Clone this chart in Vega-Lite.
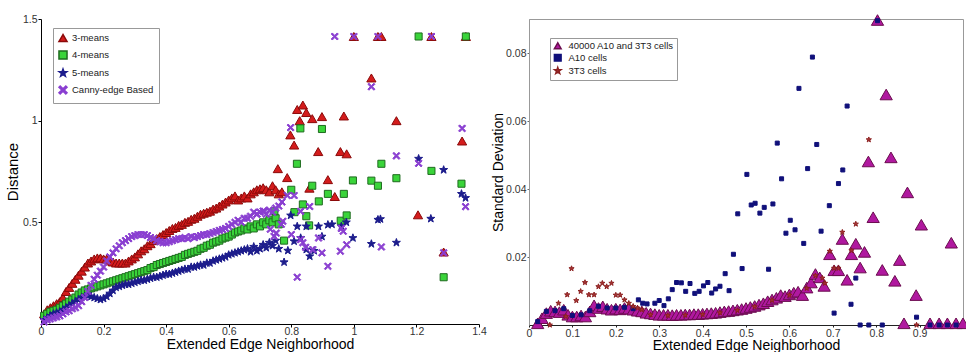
{
"$schema": "https://vega.github.io/schema/vega-lite/v6.json",
"padding": {"left": 5, "top": 12, "right": 0, "bottom": 0},
"config": {"font": "Liberation Sans", "view": {"stroke": null},
 "axis": {"grid": false, "labelFont": "Liberation Sans", "titleFont": "Liberation Sans", "titleFontWeight": "normal", "labelFontSize": 10.5, "labelColor": "#333", "titleColor": "#000", "labelFlush": false, "labelOverlap": false},
 "legend": {"labelFont": "Liberation Sans"}},
"spacing": 4,
"datasets": {
"left": [
{"x":0.01,"y":0.05,"s":"3-means"},{"x":0.02,"y":0.07,"s":"3-means"},{"x":0.03,"y":0.08,"s":"3-means"},{"x":0.04,"y":0.09,"s":"3-means"},{"x":0.05,"y":0.1,"s":"3-means"},{"x":0.06,"y":0.11,"s":"3-means"},{"x":0.07,"y":0.13,"s":"3-means"},{"x":0.08,"y":0.16,"s":"3-means"},{"x":0.09,"y":0.18,"s":"3-means"},{"x":0.1,"y":0.2,"s":"3-means"},
{"x":0.11,"y":0.22,"s":"3-means"},{"x":0.12,"y":0.24,"s":"3-means"},{"x":0.13,"y":0.26,"s":"3-means"},{"x":0.14,"y":0.28,"s":"3-means"},{"x":0.15,"y":0.3,"s":"3-means"},{"x":0.16,"y":0.31,"s":"3-means"},{"x":0.17,"y":0.32,"s":"3-means"},{"x":0.18,"y":0.325,"s":"3-means"},{"x":0.19,"y":0.325,"s":"3-means"},{"x":0.2,"y":0.32,"s":"3-means"},
{"x":0.21,"y":0.32,"s":"3-means"},{"x":0.22,"y":0.31,"s":"3-means"},{"x":0.23,"y":0.305,"s":"3-means"},{"x":0.24,"y":0.3,"s":"3-means"},{"x":0.25,"y":0.3,"s":"3-means"},{"x":0.26,"y":0.3,"s":"3-means"},{"x":0.27,"y":0.3,"s":"3-means"},{"x":0.28,"y":0.31,"s":"3-means"},{"x":0.29,"y":0.32,"s":"3-means"},{"x":0.3,"y":0.33,"s":"3-means"},
{"x":0.31,"y":0.345,"s":"3-means"},{"x":0.32,"y":0.36,"s":"3-means"},{"x":0.33,"y":0.37,"s":"3-means"},{"x":0.34,"y":0.385,"s":"3-means"},{"x":0.35,"y":0.395,"s":"3-means"},{"x":0.36,"y":0.41,"s":"3-means"},{"x":0.37,"y":0.42,"s":"3-means"},{"x":0.38,"y":0.43,"s":"3-means"},{"x":0.39,"y":0.44,"s":"3-means"},{"x":0.4,"y":0.45,"s":"3-means"},
{"x":0.41,"y":0.46,"s":"3-means"},{"x":0.42,"y":0.47,"s":"3-means"},{"x":0.43,"y":0.475,"s":"3-means"},{"x":0.44,"y":0.485,"s":"3-means"},{"x":0.45,"y":0.49,"s":"3-means"},{"x":0.46,"y":0.5,"s":"3-means"},{"x":0.47,"y":0.505,"s":"3-means"},{"x":0.48,"y":0.515,"s":"3-means"},{"x":0.49,"y":0.52,"s":"3-means"},{"x":0.5,"y":0.53,"s":"3-means"},
{"x":0.51,"y":0.54,"s":"3-means"},{"x":0.52,"y":0.545,"s":"3-means"},{"x":0.53,"y":0.55,"s":"3-means"},{"x":0.54,"y":0.555,"s":"3-means"},{"x":0.55,"y":0.565,"s":"3-means"},{"x":0.56,"y":0.57,"s":"3-means"},{"x":0.57,"y":0.58,"s":"3-means"},{"x":0.58,"y":0.59,"s":"3-means"},{"x":0.59,"y":0.6,"s":"3-means"},{"x":0.6,"y":0.61,"s":"3-means"},
{"x":0.61,"y":0.62,"s":"3-means"},{"x":0.62,"y":0.63,"s":"3-means"},{"x":0.63,"y":0.61,"s":"3-means"},{"x":0.64,"y":0.62,"s":"3-means"},{"x":0.65,"y":0.63,"s":"3-means"},{"x":0.66,"y":0.62,"s":"3-means"},{"x":0.67,"y":0.64,"s":"3-means"},{"x":0.68,"y":0.65,"s":"3-means"},{"x":0.69,"y":0.66,"s":"3-means"},{"x":0.7,"y":0.665,"s":"3-means"},
{"x":0.71,"y":0.67,"s":"3-means"},{"x":0.72,"y":0.66,"s":"3-means"},{"x":0.73,"y":0.65,"s":"3-means"},{"x":0.74,"y":0.68,"s":"3-means"},{"x":0.75,"y":0.66,"s":"3-means"},{"x":0.76,"y":0.64,"s":"3-means"},{"x":0.77,"y":0.65,"s":"3-means"},
{"x":0.757,"y":0.764,"s":"3-means"},{"x":0.787,"y":0.72,"s":"3-means"},{"x":0.797,"y":0.93,"s":"3-means"},{"x":0.809,"y":0.88,"s":"3-means"},{"x":0.819,"y":1.055,"s":"3-means"},{"x":0.827,"y":1.0,"s":"3-means"},{"x":0.837,"y":1.077,"s":"3-means"},{"x":0.848,"y":1.04,"s":"3-means"},{"x":0.867,"y":1.01,"s":"3-means"},{"x":0.898,"y":1.02,"s":"3-means"},
{"x":0.858,"y":0.668,"s":"3-means"},{"x":0.886,"y":0.848,"s":"3-means"},{"x":0.917,"y":0.71,"s":"3-means"},{"x":0.939,"y":0.627,"s":"3-means"},{"x":0.957,"y":0.848,"s":"3-means"},{"x":0.968,"y":1.023,"s":"3-means"},{"x":0.977,"y":0.837,"s":"3-means"},{"x":1.056,"y":1.21,"s":"3-means"},{"x":1.136,"y":1.0,"s":"3-means"},{"x":1.205,"y":0.537,"s":"3-means"},
{"x":1.287,"y":0.354,"s":"3-means"},{"x":1.346,"y":0.9,"s":"3-means"},{"x":1.0,"y":1.414,"s":"3-means"},{"x":1.077,"y":1.414,"s":"3-means"},{"x":1.088,"y":1.414,"s":"3-means"},{"x":1.248,"y":1.414,"s":"3-means"},{"x":1.358,"y":1.414,"s":"3-means"},
{"x":0.01,"y":0.04,"s":"4-means"},{"x":0.02,"y":0.05,"s":"4-means"},{"x":0.03,"y":0.06,"s":"4-means"},{"x":0.04,"y":0.065,"s":"4-means"},{"x":0.05,"y":0.07,"s":"4-means"},{"x":0.06,"y":0.08,"s":"4-means"},{"x":0.07,"y":0.09,"s":"4-means"},{"x":0.08,"y":0.1,"s":"4-means"},{"x":0.09,"y":0.11,"s":"4-means"},{"x":0.1,"y":0.12,"s":"4-means"},
{"x":0.11,"y":0.13,"s":"4-means"},{"x":0.12,"y":0.145,"s":"4-means"},{"x":0.13,"y":0.155,"s":"4-means"},{"x":0.14,"y":0.165,"s":"4-means"},{"x":0.15,"y":0.17,"s":"4-means"},{"x":0.16,"y":0.175,"s":"4-means"},{"x":0.17,"y":0.18,"s":"4-means"},{"x":0.18,"y":0.185,"s":"4-means"},{"x":0.19,"y":0.19,"s":"4-means"},{"x":0.2,"y":0.195,"s":"4-means"},
{"x":0.21,"y":0.2,"s":"4-means"},{"x":0.22,"y":0.205,"s":"4-means"},{"x":0.23,"y":0.21,"s":"4-means"},{"x":0.24,"y":0.215,"s":"4-means"},{"x":0.25,"y":0.22,"s":"4-means"},{"x":0.26,"y":0.225,"s":"4-means"},{"x":0.27,"y":0.23,"s":"4-means"},{"x":0.28,"y":0.235,"s":"4-means"},{"x":0.29,"y":0.24,"s":"4-means"},{"x":0.3,"y":0.245,"s":"4-means"},
{"x":0.31,"y":0.25,"s":"4-means"},{"x":0.32,"y":0.255,"s":"4-means"},{"x":0.33,"y":0.26,"s":"4-means"},{"x":0.34,"y":0.265,"s":"4-means"},{"x":0.35,"y":0.275,"s":"4-means"},{"x":0.36,"y":0.28,"s":"4-means"},{"x":0.37,"y":0.29,"s":"4-means"},{"x":0.38,"y":0.295,"s":"4-means"},{"x":0.39,"y":0.3,"s":"4-means"},{"x":0.4,"y":0.305,"s":"4-means"},
{"x":0.41,"y":0.31,"s":"4-means"},{"x":0.42,"y":0.315,"s":"4-means"},{"x":0.43,"y":0.32,"s":"4-means"},{"x":0.44,"y":0.325,"s":"4-means"},{"x":0.45,"y":0.33,"s":"4-means"},{"x":0.46,"y":0.34,"s":"4-means"},{"x":0.47,"y":0.345,"s":"4-means"},{"x":0.48,"y":0.35,"s":"4-means"},{"x":0.49,"y":0.355,"s":"4-means"},{"x":0.5,"y":0.36,"s":"4-means"},
{"x":0.51,"y":0.37,"s":"4-means"},{"x":0.52,"y":0.375,"s":"4-means"},{"x":0.53,"y":0.385,"s":"4-means"},{"x":0.54,"y":0.39,"s":"4-means"},{"x":0.55,"y":0.4,"s":"4-means"},{"x":0.56,"y":0.405,"s":"4-means"},{"x":0.57,"y":0.41,"s":"4-means"},{"x":0.58,"y":0.42,"s":"4-means"},{"x":0.59,"y":0.425,"s":"4-means"},{"x":0.6,"y":0.43,"s":"4-means"},
{"x":0.61,"y":0.44,"s":"4-means"},{"x":0.62,"y":0.45,"s":"4-means"},{"x":0.63,"y":0.455,"s":"4-means"},{"x":0.64,"y":0.46,"s":"4-means"},{"x":0.65,"y":0.47,"s":"4-means"},{"x":0.66,"y":0.465,"s":"4-means"},{"x":0.67,"y":0.48,"s":"4-means"},{"x":0.68,"y":0.47,"s":"4-means"},{"x":0.69,"y":0.49,"s":"4-means"},{"x":0.7,"y":0.48,"s":"4-means"},
{"x":0.71,"y":0.5,"s":"4-means"},{"x":0.72,"y":0.49,"s":"4-means"},{"x":0.73,"y":0.51,"s":"4-means"},{"x":0.74,"y":0.5,"s":"4-means"},{"x":0.75,"y":0.52,"s":"4-means"},{"x":0.76,"y":0.49,"s":"4-means"},
{"x":0.777,"y":0.41,"s":"4-means"},{"x":0.746,"y":0.555,"s":"4-means"},{"x":0.8,"y":0.66,"s":"4-means"},{"x":0.81,"y":0.55,"s":"4-means"},{"x":0.818,"y":0.788,"s":"4-means"},{"x":0.829,"y":0.962,"s":"4-means"},{"x":0.837,"y":0.588,"s":"4-means"},{"x":0.848,"y":0.53,"s":"4-means"},{"x":0.857,"y":0.485,"s":"4-means"},{"x":0.867,"y":0.68,"s":"4-means"},
{"x":0.888,"y":0.603,"s":"4-means"},{"x":0.898,"y":0.959,"s":"4-means"},{"x":0.917,"y":0.64,"s":"4-means"},{"x":0.958,"y":0.508,"s":"4-means"},{"x":0.968,"y":0.64,"s":"4-means"},{"x":0.977,"y":0.534,"s":"4-means"},{"x":0.997,"y":0.706,"s":"4-means"},{"x":1.056,"y":0.705,"s":"4-means"},{"x":1.077,"y":0.68,"s":"4-means"},{"x":1.088,"y":0.788,"s":"4-means"},
{"x":1.136,"y":0.717,"s":"4-means"},{"x":1.207,"y":1.414,"s":"4-means"},{"x":1.248,"y":0.753,"s":"4-means"},{"x":1.287,"y":0.23,"s":"4-means"},{"x":1.344,"y":0.69,"s":"4-means"},{"x":1.358,"y":1.414,"s":"4-means"},
{"x":0.01,"y":0.02,"s":"5-means"},{"x":0.02,"y":0.03,"s":"5-means"},{"x":0.03,"y":0.04,"s":"5-means"},{"x":0.04,"y":0.05,"s":"5-means"},{"x":0.05,"y":0.055,"s":"5-means"},{"x":0.06,"y":0.06,"s":"5-means"},{"x":0.07,"y":0.07,"s":"5-means"},{"x":0.08,"y":0.08,"s":"5-means"},{"x":0.09,"y":0.09,"s":"5-means"},{"x":0.1,"y":0.1,"s":"5-means"},
{"x":0.11,"y":0.11,"s":"5-means"},{"x":0.12,"y":0.12,"s":"5-means"},{"x":0.13,"y":0.13,"s":"5-means"},{"x":0.14,"y":0.135,"s":"5-means"},{"x":0.15,"y":0.14,"s":"5-means"},{"x":0.16,"y":0.135,"s":"5-means"},{"x":0.17,"y":0.13,"s":"5-means"},{"x":0.18,"y":0.125,"s":"5-means"},{"x":0.19,"y":0.12,"s":"5-means"},{"x":0.2,"y":0.125,"s":"5-means"},
{"x":0.21,"y":0.135,"s":"5-means"},{"x":0.22,"y":0.15,"s":"5-means"},{"x":0.23,"y":0.165,"s":"5-means"},{"x":0.24,"y":0.18,"s":"5-means"},{"x":0.25,"y":0.185,"s":"5-means"},{"x":0.26,"y":0.19,"s":"5-means"},{"x":0.27,"y":0.195,"s":"5-means"},{"x":0.28,"y":0.195,"s":"5-means"},{"x":0.29,"y":0.2,"s":"5-means"},{"x":0.3,"y":0.205,"s":"5-means"},
{"x":0.31,"y":0.21,"s":"5-means"},{"x":0.32,"y":0.215,"s":"5-means"},{"x":0.33,"y":0.215,"s":"5-means"},{"x":0.34,"y":0.22,"s":"5-means"},{"x":0.35,"y":0.225,"s":"5-means"},{"x":0.36,"y":0.23,"s":"5-means"},{"x":0.37,"y":0.23,"s":"5-means"},{"x":0.38,"y":0.235,"s":"5-means"},{"x":0.39,"y":0.24,"s":"5-means"},{"x":0.4,"y":0.245,"s":"5-means"},
{"x":0.41,"y":0.245,"s":"5-means"},{"x":0.42,"y":0.25,"s":"5-means"},{"x":0.43,"y":0.255,"s":"5-means"},{"x":0.44,"y":0.26,"s":"5-means"},{"x":0.45,"y":0.265,"s":"5-means"},{"x":0.46,"y":0.27,"s":"5-means"},{"x":0.47,"y":0.27,"s":"5-means"},{"x":0.48,"y":0.28,"s":"5-means"},{"x":0.49,"y":0.28,"s":"5-means"},{"x":0.5,"y":0.285,"s":"5-means"},
{"x":0.51,"y":0.29,"s":"5-means"},{"x":0.52,"y":0.29,"s":"5-means"},{"x":0.53,"y":0.3,"s":"5-means"},{"x":0.54,"y":0.3,"s":"5-means"},{"x":0.55,"y":0.31,"s":"5-means"},{"x":0.56,"y":0.315,"s":"5-means"},{"x":0.57,"y":0.32,"s":"5-means"},{"x":0.58,"y":0.325,"s":"5-means"},{"x":0.59,"y":0.33,"s":"5-means"},{"x":0.6,"y":0.34,"s":"5-means"},
{"x":0.61,"y":0.345,"s":"5-means"},{"x":0.62,"y":0.35,"s":"5-means"},{"x":0.63,"y":0.355,"s":"5-means"},{"x":0.64,"y":0.36,"s":"5-means"},{"x":0.65,"y":0.365,"s":"5-means"},{"x":0.66,"y":0.37,"s":"5-means"},{"x":0.67,"y":0.355,"s":"5-means"},{"x":0.68,"y":0.38,"s":"5-means"},{"x":0.69,"y":0.36,"s":"5-means"},{"x":0.7,"y":0.37,"s":"5-means"},
{"x":0.71,"y":0.39,"s":"5-means"},{"x":0.72,"y":0.375,"s":"5-means"},{"x":0.73,"y":0.4,"s":"5-means"},{"x":0.74,"y":0.385,"s":"5-means"},{"x":0.75,"y":0.41,"s":"5-means"},{"x":0.76,"y":0.37,"s":"5-means"},
{"x":0.777,"y":0.304,"s":"5-means"},{"x":0.789,"y":0.361,"s":"5-means"},{"x":0.798,"y":0.534,"s":"5-means"},{"x":0.809,"y":0.407,"s":"5-means"},{"x":0.819,"y":0.48,"s":"5-means"},{"x":0.83,"y":0.423,"s":"5-means"},{"x":0.848,"y":0.48,"s":"5-means"},{"x":0.848,"y":0.366,"s":"5-means"},{"x":0.859,"y":0.333,"s":"5-means"},{"x":0.873,"y":0.36,"s":"5-means"},
{"x":0.887,"y":0.48,"s":"5-means"},{"x":0.898,"y":0.43,"s":"5-means"},{"x":0.917,"y":0.488,"s":"5-means"},{"x":0.93,"y":0.49,"s":"5-means"},{"x":0.96,"y":0.48,"s":"5-means"},{"x":0.976,"y":0.5,"s":"5-means"},{"x":0.997,"y":0.423,"s":"5-means"},{"x":1.056,"y":0.394,"s":"5-means"},{"x":1.077,"y":0.513,"s":"5-means"},{"x":1.085,"y":0.516,"s":"5-means"},
{"x":1.136,"y":0.4,"s":"5-means"},{"x":1.207,"y":0.813,"s":"5-means"},{"x":1.246,"y":0.518,"s":"5-means"},{"x":1.287,"y":0.758,"s":"5-means"},{"x":1.344,"y":0.64,"s":"5-means"},{"x":1.357,"y":0.62,"s":"5-means"},
{"x":0.01,"y":0.01,"s":"Canny-edge Based"},{"x":0.02,"y":0.02,"s":"Canny-edge Based"},{"x":0.03,"y":0.025,"s":"Canny-edge Based"},{"x":0.04,"y":0.03,"s":"Canny-edge Based"},{"x":0.05,"y":0.035,"s":"Canny-edge Based"},{"x":0.06,"y":0.04,"s":"Canny-edge Based"},{"x":0.07,"y":0.05,"s":"Canny-edge Based"},{"x":0.08,"y":0.06,"s":"Canny-edge Based"},{"x":0.09,"y":0.065,"s":"Canny-edge Based"},{"x":0.1,"y":0.075,"s":"Canny-edge Based"},
{"x":0.11,"y":0.08,"s":"Canny-edge Based"},{"x":0.12,"y":0.09,"s":"Canny-edge Based"},{"x":0.13,"y":0.11,"s":"Canny-edge Based"},{"x":0.14,"y":0.13,"s":"Canny-edge Based"},{"x":0.15,"y":0.16,"s":"Canny-edge Based"},{"x":0.16,"y":0.19,"s":"Canny-edge Based"},{"x":0.17,"y":0.22,"s":"Canny-edge Based"},{"x":0.18,"y":0.24,"s":"Canny-edge Based"},{"x":0.19,"y":0.26,"s":"Canny-edge Based"},{"x":0.2,"y":0.28,"s":"Canny-edge Based"},
{"x":0.21,"y":0.31,"s":"Canny-edge Based"},{"x":0.22,"y":0.33,"s":"Canny-edge Based"},{"x":0.23,"y":0.35,"s":"Canny-edge Based"},{"x":0.24,"y":0.37,"s":"Canny-edge Based"},{"x":0.25,"y":0.385,"s":"Canny-edge Based"},{"x":0.26,"y":0.4,"s":"Canny-edge Based"},{"x":0.27,"y":0.41,"s":"Canny-edge Based"},{"x":0.28,"y":0.42,"s":"Canny-edge Based"},{"x":0.29,"y":0.43,"s":"Canny-edge Based"},{"x":0.3,"y":0.435,"s":"Canny-edge Based"},
{"x":0.31,"y":0.44,"s":"Canny-edge Based"},{"x":0.32,"y":0.44,"s":"Canny-edge Based"},{"x":0.33,"y":0.44,"s":"Canny-edge Based"},{"x":0.34,"y":0.435,"s":"Canny-edge Based"},{"x":0.35,"y":0.425,"s":"Canny-edge Based"},{"x":0.36,"y":0.42,"s":"Canny-edge Based"},{"x":0.37,"y":0.41,"s":"Canny-edge Based"},{"x":0.38,"y":0.405,"s":"Canny-edge Based"},{"x":0.39,"y":0.4,"s":"Canny-edge Based"},{"x":0.4,"y":0.4,"s":"Canny-edge Based"},
{"x":0.41,"y":0.405,"s":"Canny-edge Based"},{"x":0.42,"y":0.41,"s":"Canny-edge Based"},{"x":0.43,"y":0.415,"s":"Canny-edge Based"},{"x":0.44,"y":0.42,"s":"Canny-edge Based"},{"x":0.45,"y":0.42,"s":"Canny-edge Based"},{"x":0.46,"y":0.425,"s":"Canny-edge Based"},{"x":0.47,"y":0.42,"s":"Canny-edge Based"},{"x":0.48,"y":0.43,"s":"Canny-edge Based"},{"x":0.49,"y":0.425,"s":"Canny-edge Based"},{"x":0.5,"y":0.43,"s":"Canny-edge Based"},
{"x":0.51,"y":0.435,"s":"Canny-edge Based"},{"x":0.52,"y":0.44,"s":"Canny-edge Based"},{"x":0.53,"y":0.44,"s":"Canny-edge Based"},{"x":0.54,"y":0.445,"s":"Canny-edge Based"},{"x":0.55,"y":0.45,"s":"Canny-edge Based"},{"x":0.56,"y":0.455,"s":"Canny-edge Based"},{"x":0.57,"y":0.46,"s":"Canny-edge Based"},{"x":0.58,"y":0.465,"s":"Canny-edge Based"},{"x":0.59,"y":0.47,"s":"Canny-edge Based"},{"x":0.6,"y":0.48,"s":"Canny-edge Based"},
{"x":0.61,"y":0.49,"s":"Canny-edge Based"},{"x":0.62,"y":0.5,"s":"Canny-edge Based"},{"x":0.63,"y":0.51,"s":"Canny-edge Based"},{"x":0.64,"y":0.5,"s":"Canny-edge Based"},{"x":0.65,"y":0.52,"s":"Canny-edge Based"},{"x":0.66,"y":0.52,"s":"Canny-edge Based"},{"x":0.67,"y":0.53,"s":"Canny-edge Based"},{"x":0.68,"y":0.55,"s":"Canny-edge Based"},{"x":0.69,"y":0.54,"s":"Canny-edge Based"},{"x":0.7,"y":0.55,"s":"Canny-edge Based"},
{"x":0.71,"y":0.555,"s":"Canny-edge Based"},{"x":0.72,"y":0.54,"s":"Canny-edge Based"},{"x":0.73,"y":0.56,"s":"Canny-edge Based"},{"x":0.74,"y":0.55,"s":"Canny-edge Based"},{"x":0.75,"y":0.57,"s":"Canny-edge Based"},{"x":0.76,"y":0.58,"s":"Canny-edge Based"},{"x":0.77,"y":0.6,"s":"Canny-edge Based"},
{"x":0.787,"y":0.632,"s":"Canny-edge Based"},{"x":0.809,"y":0.632,"s":"Canny-edge Based"},{"x":0.798,"y":0.966,"s":"Canny-edge Based"},{"x":0.8,"y":0.44,"s":"Canny-edge Based"},{"x":0.819,"y":0.23,"s":"Canny-edge Based"},{"x":0.83,"y":0.554,"s":"Canny-edge Based"},{"x":0.83,"y":0.415,"s":"Canny-edge Based"},{"x":0.837,"y":0.4,"s":"Canny-edge Based"},{"x":0.846,"y":0.377,"s":"Canny-edge Based"},{"x":0.859,"y":0.578,"s":"Canny-edge Based"},
{"x":0.869,"y":0.366,"s":"Canny-edge Based"},{"x":0.887,"y":0.423,"s":"Canny-edge Based"},{"x":0.898,"y":0.35,"s":"Canny-edge Based"},{"x":0.917,"y":0.284,"s":"Canny-edge Based"},{"x":0.939,"y":1.414,"s":"Canny-edge Based"},{"x":0.957,"y":0.358,"s":"Canny-edge Based"},{"x":0.96,"y":0.47,"s":"Canny-edge Based"},{"x":0.966,"y":0.456,"s":"Canny-edge Based"},{"x":0.977,"y":0.39,"s":"Canny-edge Based"},{"x":1.0,"y":1.414,"s":"Canny-edge Based"},
{"x":1.056,"y":1.167,"s":"Canny-edge Based"},{"x":1.077,"y":1.414,"s":"Canny-edge Based"},{"x":1.088,"y":0.379,"s":"Canny-edge Based"},{"x":1.136,"y":0.827,"s":"Canny-edge Based"},{"x":1.207,"y":0.79,"s":"Canny-edge Based"},{"x":1.248,"y":1.414,"s":"Canny-edge Based"},{"x":1.287,"y":0.35,"s":"Canny-edge Based"},{"x":1.346,"y":0.962,"s":"Canny-edge Based"},{"x":1.357,"y":0.577,"s":"Canny-edge Based"},
{"x":0.733,"y":0.466,"s":"Canny-edge Based"},{"x":0.745,"y":0.431,"s":"Canny-edge Based"},{"x":0.752,"y":0.447,"s":"Canny-edge Based"},{"x":0.768,"y":0.49,"s":"Canny-edge Based"},{"x":0.773,"y":0.505,"s":"Canny-edge Based"},{"x":0.69,"y":0.54,"s":"Canny-edge Based"},{"x":0.714,"y":0.554,"s":"Canny-edge Based"}
],
"right": [
{"x":0.02,"y":0.0005,"s":"40000 A10 and 3T3 cells"},{"x":0.03,"y":0.002,"s":"40000 A10 and 3T3 cells"},{"x":0.04,"y":0.0035,"s":"40000 A10 and 3T3 cells"},{"x":0.05,"y":0.0042,"s":"40000 A10 and 3T3 cells"},{"x":0.06,"y":0.004,"s":"40000 A10 and 3T3 cells"},{"x":0.07,"y":0.0038,"s":"40000 A10 and 3T3 cells"},{"x":0.08,"y":0.0045,"s":"40000 A10 and 3T3 cells"},{"x":0.09,"y":0.003,"s":"40000 A10 and 3T3 cells"},{"x":0.1,"y":0.0025,"s":"40000 A10 and 3T3 cells"},{"x":0.11,"y":0.0025,"s":"40000 A10 and 3T3 cells"},
{"x":0.12,"y":0.0028,"s":"40000 A10 and 3T3 cells"},{"x":0.13,"y":0.0025,"s":"40000 A10 and 3T3 cells"},{"x":0.14,"y":0.004,"s":"40000 A10 and 3T3 cells"},{"x":0.15,"y":0.0058,"s":"40000 A10 and 3T3 cells"},{"x":0.16,"y":0.005,"s":"40000 A10 and 3T3 cells"},{"x":0.17,"y":0.0055,"s":"40000 A10 and 3T3 cells"},{"x":0.18,"y":0.0048,"s":"40000 A10 and 3T3 cells"},{"x":0.19,"y":0.0045,"s":"40000 A10 and 3T3 cells"},{"x":0.2,"y":0.0048,"s":"40000 A10 and 3T3 cells"},{"x":0.21,"y":0.0046,"s":"40000 A10 and 3T3 cells"},
{"x":0.22,"y":0.005,"s":"40000 A10 and 3T3 cells"},{"x":0.23,"y":0.0048,"s":"40000 A10 and 3T3 cells"},{"x":0.24,"y":0.0045,"s":"40000 A10 and 3T3 cells"},{"x":0.25,"y":0.0042,"s":"40000 A10 and 3T3 cells"},{"x":0.26,"y":0.004,"s":"40000 A10 and 3T3 cells"},{"x":0.27,"y":0.0036,"s":"40000 A10 and 3T3 cells"},{"x":0.28,"y":0.0034,"s":"40000 A10 and 3T3 cells"},{"x":0.29,"y":0.0032,"s":"40000 A10 and 3T3 cells"},{"x":0.3,"y":0.003,"s":"40000 A10 and 3T3 cells"},{"x":0.31,"y":0.003,"s":"40000 A10 and 3T3 cells"},
{"x":0.32,"y":0.003,"s":"40000 A10 and 3T3 cells"},{"x":0.33,"y":0.0029,"s":"40000 A10 and 3T3 cells"},{"x":0.34,"y":0.003,"s":"40000 A10 and 3T3 cells"},{"x":0.35,"y":0.003,"s":"40000 A10 and 3T3 cells"},{"x":0.36,"y":0.0031,"s":"40000 A10 and 3T3 cells"},{"x":0.37,"y":0.0031,"s":"40000 A10 and 3T3 cells"},{"x":0.38,"y":0.0032,"s":"40000 A10 and 3T3 cells"},{"x":0.39,"y":0.0032,"s":"40000 A10 and 3T3 cells"},{"x":0.4,"y":0.0033,"s":"40000 A10 and 3T3 cells"},{"x":0.41,"y":0.0034,"s":"40000 A10 and 3T3 cells"},
{"x":0.42,"y":0.0035,"s":"40000 A10 and 3T3 cells"},{"x":0.43,"y":0.0036,"s":"40000 A10 and 3T3 cells"},{"x":0.44,"y":0.0038,"s":"40000 A10 and 3T3 cells"},{"x":0.45,"y":0.004,"s":"40000 A10 and 3T3 cells"},{"x":0.46,"y":0.0041,"s":"40000 A10 and 3T3 cells"},{"x":0.47,"y":0.0043,"s":"40000 A10 and 3T3 cells"},{"x":0.48,"y":0.0045,"s":"40000 A10 and 3T3 cells"},{"x":0.49,"y":0.0047,"s":"40000 A10 and 3T3 cells"},{"x":0.5,"y":0.005,"s":"40000 A10 and 3T3 cells"},{"x":0.51,"y":0.0053,"s":"40000 A10 and 3T3 cells"},
{"x":0.52,"y":0.0056,"s":"40000 A10 and 3T3 cells"},{"x":0.53,"y":0.006,"s":"40000 A10 and 3T3 cells"},{"x":0.54,"y":0.0064,"s":"40000 A10 and 3T3 cells"},{"x":0.55,"y":0.007,"s":"40000 A10 and 3T3 cells"},{"x":0.56,"y":0.0075,"s":"40000 A10 and 3T3 cells"},{"x":0.57,"y":0.008,"s":"40000 A10 and 3T3 cells"},{"x":0.58,"y":0.0088,"s":"40000 A10 and 3T3 cells"},{"x":0.59,"y":0.0085,"s":"40000 A10 and 3T3 cells"},{"x":0.6,"y":0.009,"s":"40000 A10 and 3T3 cells"},{"x":0.61,"y":0.0095,"s":"40000 A10 and 3T3 cells"},
{"x":0.62,"y":0.0098,"s":"40000 A10 and 3T3 cells"},{"x":0.63,"y":0.0088,"s":"40000 A10 and 3T3 cells"},{"x":0.64,"y":0.011,"s":"40000 A10 and 3T3 cells"},{"x":0.65,"y":0.0125,"s":"40000 A10 and 3T3 cells"},{"x":0.66,"y":0.015,"s":"40000 A10 and 3T3 cells"},{"x":0.67,"y":0.014,"s":"40000 A10 and 3T3 cells"},{"x":0.68,"y":0.0115,"s":"40000 A10 and 3T3 cells"},
{"x":0.693,"y":0.0208,"s":"40000 A10 and 3T3 cells"},{"x":0.703,"y":0.0161,"s":"40000 A10 and 3T3 cells"},{"x":0.713,"y":0.0161,"s":"40000 A10 and 3T3 cells"},{"x":0.722,"y":0.0253,"s":"40000 A10 and 3T3 cells"},{"x":0.733,"y":0.0133,"s":"40000 A10 and 3T3 cells"},{"x":0.743,"y":0.0208,"s":"40000 A10 and 3T3 cells"},{"x":0.753,"y":0.0239,"s":"40000 A10 and 3T3 cells"},{"x":0.763,"y":0.0169,"s":"40000 A10 and 3T3 cells"},{"x":0.773,"y":0.0215,"s":"40000 A10 and 3T3 cells"},{"x":0.782,"y":0.0481,"s":"40000 A10 and 3T3 cells"},
{"x":0.793,"y":0.0317,"s":"40000 A10 and 3T3 cells"},{"x":0.803,"y":0.0897,"s":"40000 A10 and 3T3 cells"},{"x":0.814,"y":0.0162,"s":"40000 A10 and 3T3 cells"},{"x":0.823,"y":0.0678,"s":"40000 A10 and 3T3 cells"},{"x":0.834,"y":0.0493,"s":"40000 A10 and 3T3 cells"},{"x":0.843,"y":0.013,"s":"40000 A10 and 3T3 cells"},{"x":0.854,"y":0.0191,"s":"40000 A10 and 3T3 cells"},{"x":0.864,"y":0.0005,"s":"40000 A10 and 3T3 cells"},{"x":0.872,"y":0.039,"s":"40000 A10 and 3T3 cells"},{"x":0.892,"y":0.0088,"s":"40000 A10 and 3T3 cells"},
{"x":0.904,"y":0.0295,"s":"40000 A10 and 3T3 cells"},{"x":0.924,"y":0.0005,"s":"40000 A10 and 3T3 cells"},{"x":0.945,"y":0.0005,"s":"40000 A10 and 3T3 cells"},{"x":0.964,"y":0.0005,"s":"40000 A10 and 3T3 cells"},{"x":0.984,"y":0.0005,"s":"40000 A10 and 3T3 cells"},{"x":1.0,"y":0.0005,"s":"40000 A10 and 3T3 cells"},{"x":0.973,"y":0.0242,"s":"40000 A10 and 3T3 cells"},
{"x":0.02,"y":0.001,"s":"A10 cells"},{"x":0.04,"y":0.004,"s":"A10 cells"},{"x":0.06,"y":0.0042,"s":"A10 cells"},{"x":0.08,"y":0.0048,"s":"A10 cells"},{"x":0.1,"y":0.0028,"s":"A10 cells"},{"x":0.12,"y":0.003,"s":"A10 cells"},{"x":0.14,"y":0.0042,"s":"A10 cells"},{"x":0.16,"y":0.0055,"s":"A10 cells"},{"x":0.18,"y":0.005,"s":"A10 cells"},{"x":0.2,"y":0.005,"s":"A10 cells"},{"x":0.22,"y":0.0052,"s":"A10 cells"},{"x":0.24,"y":0.0048,"s":"A10 cells"},
{"x":0.252,"y":0.0074,"s":"A10 cells"},{"x":0.262,"y":0.0064,"s":"A10 cells"},{"x":0.272,"y":0.0062,"s":"A10 cells"},{"x":0.29,"y":0.0064,"s":"A10 cells"},{"x":0.3,"y":0.0072,"s":"A10 cells"},{"x":0.311,"y":0.0057,"s":"A10 cells"},{"x":0.321,"y":0.0077,"s":"A10 cells"},{"x":0.33,"y":0.0104,"s":"A10 cells"},{"x":0.34,"y":0.0125,"s":"A10 cells"},{"x":0.351,"y":0.0124,"s":"A10 cells"},
{"x":0.361,"y":0.0099,"s":"A10 cells"},{"x":0.371,"y":0.0122,"s":"A10 cells"},{"x":0.382,"y":0.0093,"s":"A10 cells"},{"x":0.392,"y":0.0099,"s":"A10 cells"},{"x":0.402,"y":0.0115,"s":"A10 cells"},{"x":0.412,"y":0.0125,"s":"A10 cells"},{"x":0.421,"y":0.0094,"s":"A10 cells"},{"x":0.43,"y":0.0106,"s":"A10 cells"},{"x":0.44,"y":0.0114,"s":"A10 cells"},{"x":0.452,"y":0.0151,"s":"A10 cells"},
{"x":0.461,"y":0.0101,"s":"A10 cells"},{"x":0.471,"y":0.0208,"s":"A10 cells"},{"x":0.481,"y":0.0327,"s":"A10 cells"},{"x":0.491,"y":0.0166,"s":"A10 cells"},{"x":0.502,"y":0.0443,"s":"A10 cells"},{"x":0.512,"y":0.0353,"s":"A10 cells"},{"x":0.521,"y":0.0358,"s":"A10 cells"},{"x":0.532,"y":0.0329,"s":"A10 cells"},{"x":0.542,"y":0.0346,"s":"A10 cells"},{"x":0.552,"y":0.0164,"s":"A10 cells"},
{"x":0.562,"y":0.0356,"s":"A10 cells"},{"x":0.572,"y":0.0535,"s":"A10 cells"},{"x":0.582,"y":0.043,"s":"A10 cells"},{"x":0.592,"y":0.027,"s":"A10 cells"},{"x":0.602,"y":0.0308,"s":"A10 cells"},{"x":0.613,"y":0.028,"s":"A10 cells"},{"x":0.622,"y":0.0696,"s":"A10 cells"},{"x":0.633,"y":0.024,"s":"A10 cells"},{"x":0.642,"y":0.046,"s":"A10 cells"},{"x":0.653,"y":0.0788,"s":"A10 cells"},
{"x":0.663,"y":0.0531,"s":"A10 cells"},{"x":0.673,"y":0.0276,"s":"A10 cells"},{"x":0.692,"y":0.0351,"s":"A10 cells"},{"x":0.703,"y":0.0035,"s":"A10 cells"},{"x":0.713,"y":0.0416,"s":"A10 cells"},{"x":0.723,"y":0.0456,"s":"A10 cells"},{"x":0.733,"y":0.0644,"s":"A10 cells"},{"x":0.742,"y":0.0061,"s":"A10 cells"},{"x":0.753,"y":0.0138,"s":"A10 cells"},{"x":0.763,"y":0.0,"s":"A10 cells"},
{"x":0.783,"y":0.0,"s":"A10 cells"},{"x":0.803,"y":0.0895,"s":"A10 cells"},{"x":0.814,"y":0.0,"s":"A10 cells"},{"x":0.893,"y":0.0023,"s":"A10 cells"},{"x":0.924,"y":0.0,"s":"A10 cells"},{"x":0.945,"y":0.0,"s":"A10 cells"},{"x":0.964,"y":0.0,"s":"A10 cells"},{"x":0.984,"y":0.0,"s":"A10 cells"},
{"x":0.048,"y":0.0,"s":"3T3 cells"},{"x":0.068,"y":0.0064,"s":"3T3 cells"},{"x":0.085,"y":0.0025,"s":"3T3 cells"},{"x":0.088,"y":0.0089,"s":"3T3 cells"},{"x":0.098,"y":0.0166,"s":"3T3 cells"},{"x":0.109,"y":0.0072,"s":"3T3 cells"},{"x":0.119,"y":0.0099,"s":"3T3 cells"},{"x":0.129,"y":0.0125,"s":"3T3 cells"},{"x":0.138,"y":0.0089,"s":"3T3 cells"},{"x":0.15,"y":0.0089,"s":"3T3 cells"},
{"x":0.16,"y":0.0113,"s":"3T3 cells"},{"x":0.169,"y":0.0123,"s":"3T3 cells"},{"x":0.179,"y":0.0113,"s":"3T3 cells"},{"x":0.19,"y":0.0123,"s":"3T3 cells"},{"x":0.2,"y":0.0088,"s":"3T3 cells"},{"x":0.21,"y":0.0088,"s":"3T3 cells"},{"x":0.22,"y":0.0074,"s":"3T3 cells"},{"x":0.23,"y":0.0064,"s":"3T3 cells"},{"x":0.24,"y":0.0055,"s":"3T3 cells"},{"x":0.25,"y":0.005,"s":"3T3 cells"},
{"x":0.26,"y":0.0045,"s":"3T3 cells"},{"x":0.28,"y":0.003,"s":"3T3 cells"},{"x":0.32,"y":0.0028,"s":"3T3 cells"},{"x":0.36,"y":0.0029,"s":"3T3 cells"},{"x":0.4,"y":0.0031,"s":"3T3 cells"},{"x":0.44,"y":0.0036,"s":"3T3 cells"},{"x":0.48,"y":0.0043,"s":"3T3 cells"},{"x":0.52,"y":0.0054,"s":"3T3 cells"},{"x":0.56,"y":0.0073,"s":"3T3 cells"},{"x":0.6,"y":0.0088,"s":"3T3 cells"},
{"x":0.64,"y":0.0108,"s":"3T3 cells"},{"x":0.66,"y":0.0145,"s":"3T3 cells"},{"x":0.676,"y":0.0138,"s":"3T3 cells"},{"x":0.682,"y":0.0123,"s":"3T3 cells"},{"x":0.693,"y":0.0217,"s":"3T3 cells"},{"x":0.703,"y":0.0167,"s":"3T3 cells"},{"x":0.713,"y":0.0167,"s":"3T3 cells"},{"x":0.722,"y":0.0273,"s":"3T3 cells"},{"x":0.743,"y":0.0219,"s":"3T3 cells"},{"x":0.753,"y":0.0297,"s":"3T3 cells"},
{"x":0.783,"y":0.0545,"s":"3T3 cells"},{"x":0.893,"y":0.0,"s":"3T3 cells"}
]
},
"hconcat": [
{
"width": 438, "height": 305,
"data": {"name": "left"},
"mark": {"type": "point", "filled": true, "strokeWidth": 1, "opacity": 1},
"encoding": {
 "x": {"field": "x", "type": "quantitative", "scale": {"domain": [0, 1.4], "nice": false},
  "axis": {"values": [0,0.2,0.4,0.6,0.8,1,1.2,1.4], "format": "~g", "tickSize": 3, "labelPadding": -1, "title": "Extended Edge Neighborhood", "titleFontSize": 14, "titlePadding": 1, "domainColor": "#000", "tickColor": "#000"}},
 "y": {"field": "y", "type": "quantitative", "scale": {"domain": [0, 1.5], "nice": false},
  "axis": {"values": [0.5,1,1.5], "format": "~g", "tickSize": 3, "labelPadding": 1, "title": "Distance", "titleFontSize": 15, "titlePadding": 2, "domainColor": "#000", "tickColor": "#000"}},
 "shape": {"field": "s", "type": "nominal", "scale": {"domain": ["3-means","4-means","5-means","Canny-edge Based"], "range": ["triangle-up","square","M0,-1L0.235,-0.324L0.951,-0.309L0.38,0.124L0.588,0.809L0,0.4L-0.588,0.809L-0.38,0.124L-0.951,-0.309L-0.235,-0.324Z","M-1,-0.7L-0.7,-1L0,-0.3L0.7,-1L1,-0.7L0.3,0L1,0.7L0.7,1L0,0.3L-0.7,1L-1,0.7L-0.3,0Z"]},
  "legend": {"orient": "none", "legendX": 12, "legendY": 9, "title": null, "strokeColor": "#999", "fillColor": "white", "padding": 5, "rowPadding": 2, "symbolSize": 65, "labelFontSize": 9.5, "labelOffset": 4, "labelColor": "#222"}},
 "fill": {"field": "s", "type": "nominal", "scale": {"domain": ["3-means","4-means","5-means","Canny-edge Based"], "range": ["#d41c1c","#3ad43a","#1c1c8c","#8a3fd1"]},
  "legend": {"orient": "none", "legendX": 12, "legendY": 9, "title": null, "strokeColor": "#999", "fillColor": "white", "padding": 5, "rowPadding": 2, "symbolSize": 65, "labelFontSize": 9.5, "labelOffset": 4, "labelColor": "#222"}},
 "stroke": {"field": "s", "type": "nominal", "scale": {"domain": ["3-means","4-means","5-means","Canny-edge Based"], "range": ["#8b0a0a","#1f6b1f","#1c1c8c","#8a3fd1"]},
  "legend": {"orient": "none", "legendX": 12, "legendY": 9, "title": null, "strokeColor": "#999", "fillColor": "white", "padding": 5, "rowPadding": 2, "symbolSize": 65, "labelFontSize": 9.5, "labelOffset": 4, "labelColor": "#222"}},
 "size": {"condition": [{"test": "datum.s === '4-means'", "value": 50}, {"test": "datum.s === '5-means'", "value": 70}, {"test": "datum.s === 'Canny-edge Based'", "value": 50}], "value": 85}
}
},
{
"width": 434, "height": 306,
"data": {"name": "right"},
"view": {"stroke": "#999"},
"mark": {"type": "point", "filled": true, "strokeWidth": 1, "opacity": 1, "clip": false},
"encoding": {
 "x": {"field": "x", "type": "quantitative", "scale": {"domain": [0, 1], "nice": false},
  "axis": {"values": [0,0.1,0.2,0.3,0.4,0.5,0.6,0.7,0.8,0.9], "format": "~g", "tickSize": 2, "labelPadding": 1, "title": "Extended Edge Neighborhood", "titleFontSize": 14, "titlePadding": 0, "domainColor": "#222", "tickColor": "#222"}},
 "y": {"field": "y", "type": "quantitative", "scale": {"domain": [0, 0.09], "nice": false},
  "axis": {"values": [0.02,0.04,0.06,0.08], "format": "~g", "tickSize": 2, "labelPadding": 1, "title": "Standard Deviation", "titleFontSize": 14, "titlePadding": 0, "domainColor": "#999", "tickColor": "#666"}},
 "shape": {"field": "s", "type": "nominal", "scale": {"domain": ["40000 A10 and 3T3 cells","A10 cells","3T3 cells"], "range": ["triangle-up","square","M0,-1L0.235,-0.324L0.951,-0.309L0.38,0.124L0.588,0.809L0,0.4L-0.588,0.809L-0.38,0.124L-0.951,-0.309L-0.235,-0.324Z"]},
  "legend": {"orient": "none", "legendX": 21, "legendY": 19, "title": null, "strokeColor": "#999", "fillColor": "white", "padding": 3, "rowPadding": -1, "symbolSize": 45, "labelFontSize": 9.5, "labelOffset": 6, "labelColor": "#222"}},
 "fill": {"field": "s", "type": "nominal", "scale": {"domain": ["40000 A10 and 3T3 cells","A10 cells","3T3 cells"], "range": ["#b0189f","#10107a","#a83232"]},
  "legend": {"orient": "none", "legendX": 21, "legendY": 19, "title": null, "strokeColor": "#999", "fillColor": "white", "padding": 3, "rowPadding": -1, "symbolSize": 45, "labelFontSize": 9.5, "labelOffset": 6, "labelColor": "#222"}},
 "stroke": {"field": "s", "type": "nominal", "scale": {"domain": ["40000 A10 and 3T3 cells","A10 cells","3T3 cells"], "range": ["#6b0d4f","#10107a","#8b2020"]},
  "legend": {"orient": "none", "legendX": 21, "legendY": 19, "title": null, "strokeColor": "#999", "fillColor": "white", "padding": 3, "rowPadding": -1, "symbolSize": 45, "labelFontSize": 9.5, "labelOffset": 6, "labelColor": "#222"}},
 "size": {"condition": [{"test": "datum.s === 'A10 cells'", "value": 16}, {"test": "datum.s === '3T3 cells'", "value": 30}], "value": 150}
}
}
],
"resolve": {"scale": {"shape": "independent", "fill": "independent", "stroke": "independent"}}
}
